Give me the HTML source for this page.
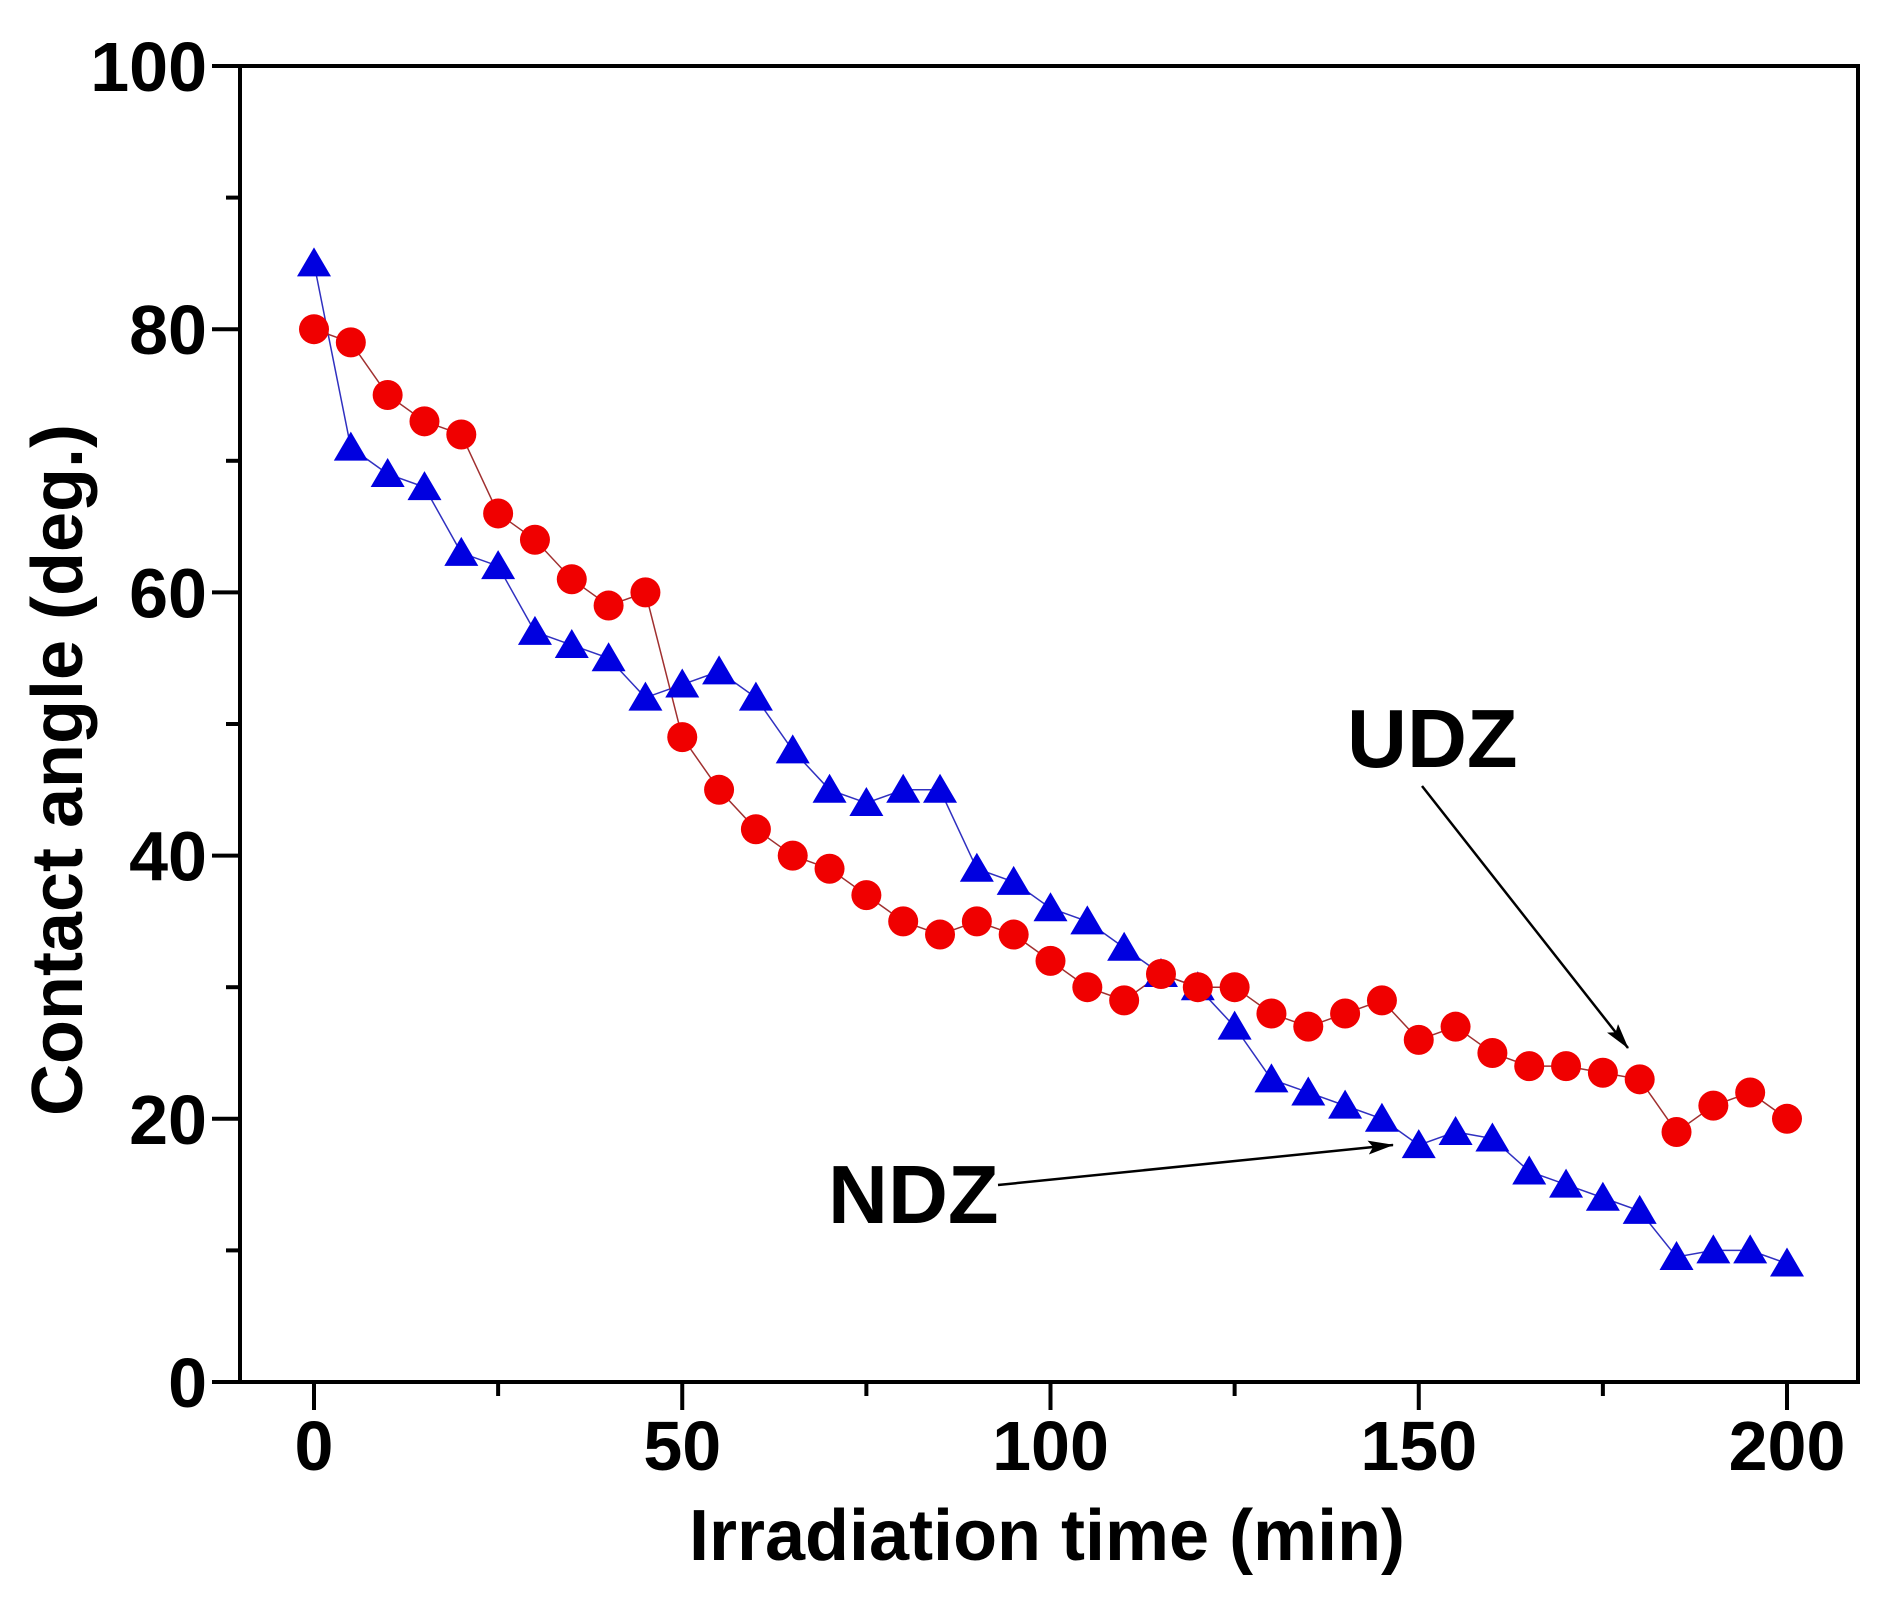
<!DOCTYPE html>
<html><head><meta charset="utf-8"><style>
html,body{margin:0;padding:0;background:#fff}
svg{display:block}
text{font-family:"Liberation Sans",sans-serif;font-weight:bold;fill:#000}
</style></head><body>
<svg id="chart" width="1886" height="1613" viewBox="0 0 1886 1613">
<defs><marker id="ah" markerWidth="26" markerHeight="14" refX="25" refY="7" orient="auto" markerUnits="userSpaceOnUse" viewBox="0 0 26 14"><path d="M0,0 L26,7 L0,14 L5,7 Z" fill="#000"/></marker></defs>
<g id="plot"></g>
<rect x="240" y="66" width="1618" height="1316" fill="none" stroke="#000" stroke-width="4"/>
<text x="1047" y="1560" font-size="72" text-anchor="middle">Irradiation time (min)</text>
<text transform="translate(82,770) rotate(-90)" font-size="72" text-anchor="middle">Contact angle (deg.)</text>
<text x="1347" y="767" font-size="83">UDZ</text>
<line x1="1422" y1="786" x2="1628" y2="1048" stroke="#000" stroke-width="2.5" marker-end="url(#ah)"/>
<text x="828" y="1223" font-size="83">NDZ</text>
<line x1="998" y1="1185" x2="1393" y2="1145" stroke="#000" stroke-width="2.5" marker-end="url(#ah)"/>
</svg>
<script>
const times=[0,5,10,15,20,25,30,35,40,45,50,55,60,65,70,75,80,85,90,95,100,105,110,115,120,125,130,135,140,145,150,155,160,165,170,175,180,185,190,195,200];
const udzValues=[80,79,75,73,72,66,64,61,59,60,49,45,42,40,39,37,35,34,35,34,32,30,29,31,30,30,28,27,28,29,26,27,25,24,24,23.5,23,19,21,22,20];
const ndzValues=[85,71,69,68,63,62,57,56,55,52,53,54,52,48,45,44,45,45,39,38,36,35,33,31,30,27,23,22,21,20,18,19,18.5,16,15,14,13,9.5,10,10,9];
const xTicks=[0,50,100,150,200];
const yTicks=[0,20,40,60,80,100];
const NS="http://www.w3.org/2000/svg";
const xS=v=>314+(1787-314)*v/200;
const yS=v=>1382-1316*v/100;
const g=document.getElementById('plot');
function mk(t,a){const e=document.createElementNS(NS,t);for(const k in a)e.setAttribute(k,a[k]);g.appendChild(e);return e;}
for(let v=0;v<=200;v+=25){const maj=v%50===0;
 const t=mk('line',{x1:xS(v),x2:xS(v),y1:1382,y2:1382+(maj?28:14),stroke:'#000','stroke-width':4});
 
 }
xTicks.forEach(v=>{const t=mk('text',{x:xS(v),y:1470,'font-size':70,'text-anchor':'middle'});t.textContent=v;
 
 });
for(let v=0;v<=100;v+=10){const maj=v%20===0;
 const t=mk('line',{x1:240,x2:240-(maj?28:14),y1:yS(v),y2:yS(v),stroke:'#000','stroke-width':4});
 
 }
yTicks.forEach(v=>{const t=mk('text',{x:207,y:yS(v)+25,'font-size':70,'text-anchor':'end'});t.textContent=v;
 
 });
function path(vals,color,name){const p=mk('polyline',{points:vals.map((v,i)=>xS(times[i])+','+yS(v)).join(' '),fill:'none',stroke:color,'stroke-width':1.5});
 
 }
path(ndzValues,'#3030c0','ndz-line');
path(udzValues,'#a03030','udz-line');
ndzValues.forEach((v,i)=>{const x=xS(times[i]),y=yS(v);
 const t=mk('polygon',{points:`${x},${y-16} ${x-17},${y+13} ${x+17},${y+13}`,fill:'#0000e0'});
 
 });
udzValues.forEach((v,i)=>{const c=mk('circle',{cx:xS(times[i]),cy:yS(v),r:15,fill:'#f00000'});
 
 });
</script>
</body></html>
